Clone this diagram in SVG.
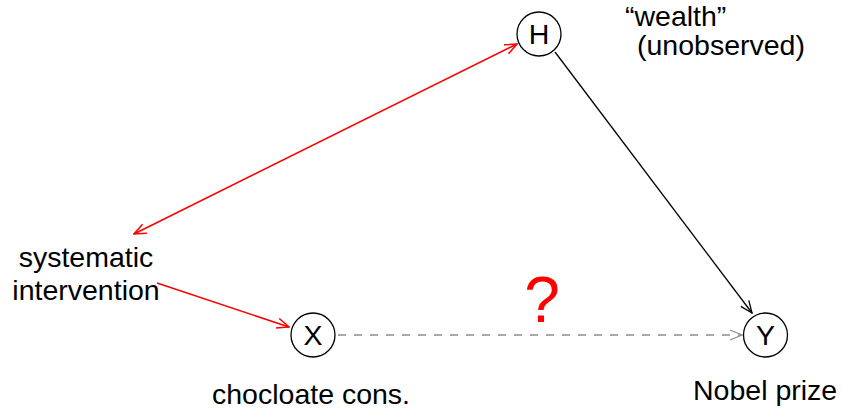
<svg xmlns="http://www.w3.org/2000/svg" width="842" height="409" viewBox="0 0 842 409">
<style>
text{font-family:"Liberation Sans",Arial,sans-serif;font-size:28.5px;fill:#000}
.node circle{fill:#fff;stroke:#000;stroke-width:1.3}
.node text{text-anchor:middle}
.red{stroke:#ff0000;stroke-width:1.6;fill:none}
.blk{stroke:#000;stroke-width:1.3;fill:none}
.dash{stroke:#8c8c8c;stroke-width:1.3;fill:none;stroke-dasharray:8 8}
</style>
<defs>
<marker id="ar-red" viewBox="0 0 14 12" refX="13" refY="6" markerWidth="14" markerHeight="12" markerUnits="userSpaceOnUse" orient="auto-start-reverse">
<path d="M1,1 L13,6 L1,11" fill="none" stroke="#ff0000" stroke-width="1.5"/>
</marker>
<marker id="ar-blk" viewBox="0 0 14 12" refX="13" refY="6" markerWidth="14" markerHeight="12" markerUnits="userSpaceOnUse" orient="auto">
<path d="M1,1 L13,6 L1,11" fill="none" stroke="#000" stroke-width="1.3"/>
</marker>
<marker id="ar-gry" viewBox="0 0 14 12" refX="13" refY="6" markerWidth="14" markerHeight="12" markerUnits="userSpaceOnUse" orient="auto">
<path d="M1,1 L13,6 L1,11" fill="none" stroke="#8c8c8c" stroke-width="1.3"/>
</marker>
</defs>
<g id="connectors">
<line class="red" x1="517" y1="44" x2="134" y2="234" marker-start="url(#ar-red)" marker-end="url(#ar-red)"/>
<line class="red" x1="157" y1="283" x2="289" y2="327" marker-end="url(#ar-red)"/>
<line class="blk" x1="555" y1="52" x2="752" y2="313" marker-end="url(#ar-blk)"/>
<line class="dash" x1="338" y1="335" x2="742" y2="335" marker-end="url(#ar-gry)"/>
</g>
<g id="node-H" class="node">
<circle cx="539" cy="34" r="22"/>
<text x="539" y="44">H</text>
</g>
<g id="node-X" class="node">
<circle cx="313" cy="335" r="22"/>
<text x="313" y="345">X</text>
</g>
<g id="node-Y" class="node">
<circle cx="765.5" cy="335" r="22"/>
<text x="765.5" y="345">Y</text>
</g>
<g id="labels">
<text x="625" y="26">“wealth”</text>
<text x="637" y="55">(unobserved)</text>
<text x="86" y="267" text-anchor="middle">systematic</text>
<text x="86" y="300" text-anchor="middle">intervention</text>
<text x="212" y="404">chocloate cons.</text>
<text x="693" y="400">Nobel prize</text>
<text x="542" y="322" text-anchor="middle" style="font-size:64px;fill:#ff0000">?</text>
</g>
</svg>
